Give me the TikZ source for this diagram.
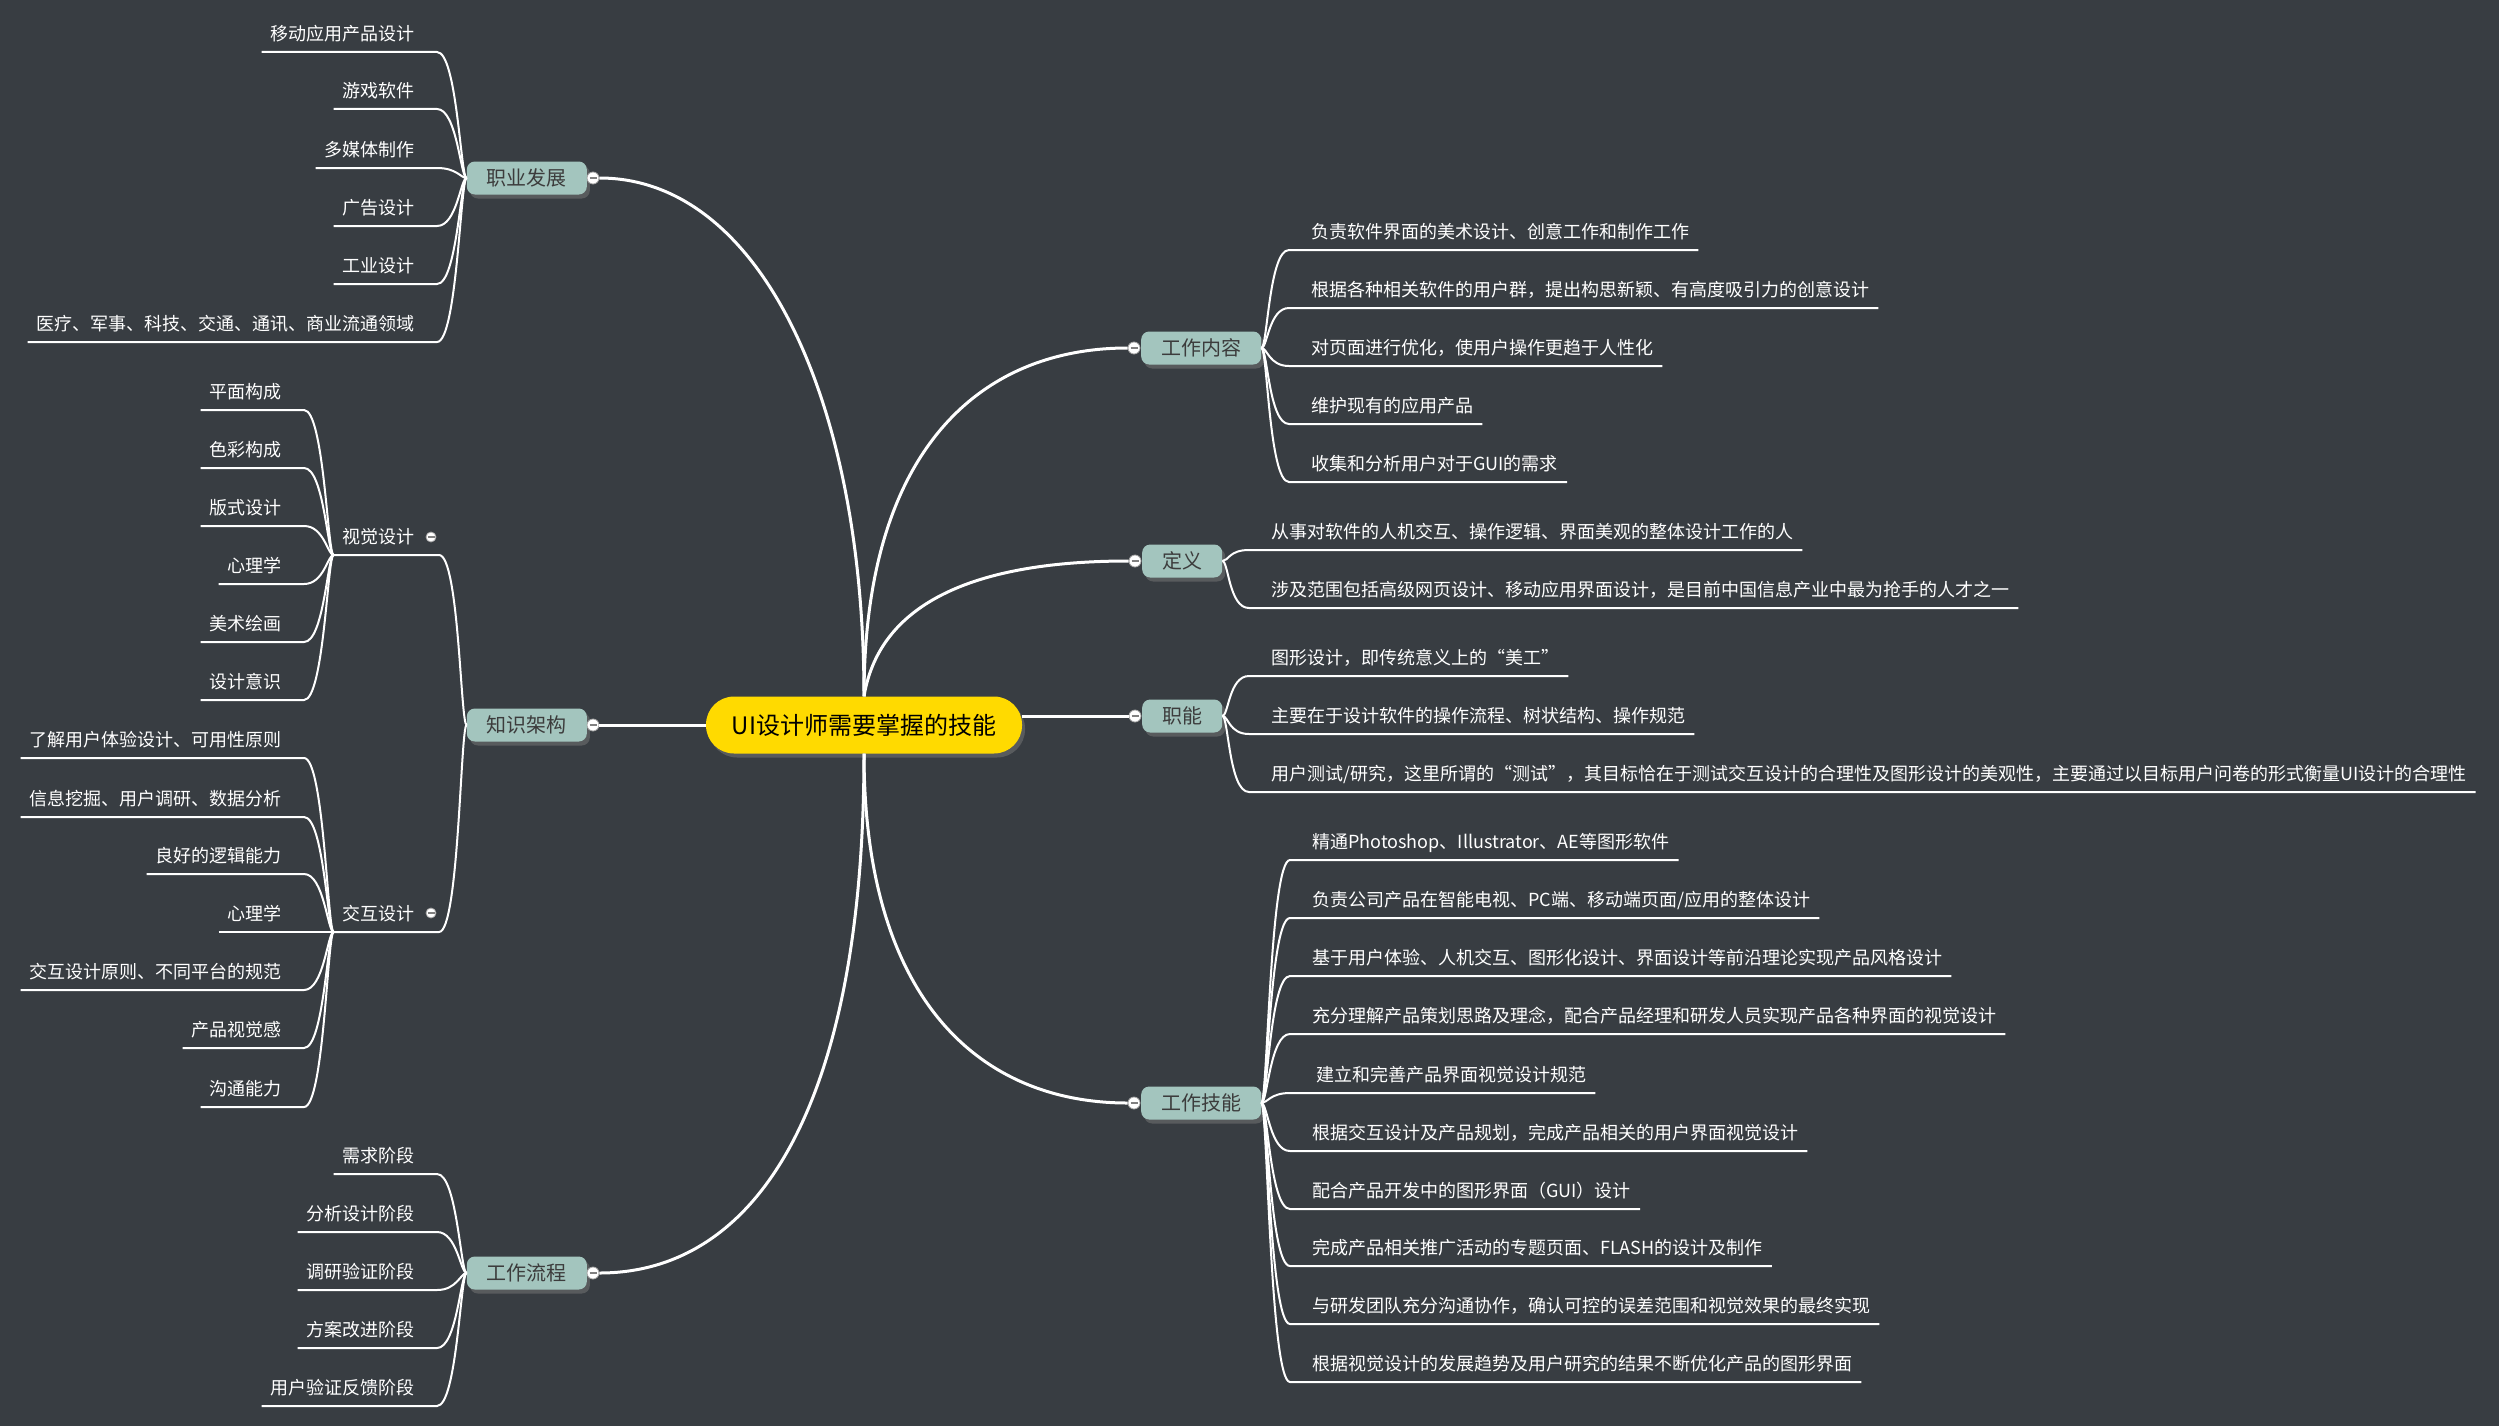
\documentclass[tikz,border=0pt]{standalone}
\usepackage{fontspec}
\newfontfamily\cjk{Noto Sans CJK SC}
\usetikzlibrary{shadows}

\definecolor{boardgray}{HTML}{383D42}
\definecolor{rootyellow}{HTML}{FFDA00}
\definecolor{topicgreen}{HTML}{A3C5BE}
\definecolor{topictext}{HTML}{3C3C3C}

\tikzset{
  root/.style={fill=rootyellow, text=black, rounded corners=28pt, minimum width=316pt,
    minimum height=57pt, inner sep=0pt, font=\cjk\fontsize{24}{28}\selectfont,
    drop shadow={opacity=0.45, shadow xshift=3pt, shadow yshift=-4pt}},
  topic/.style={fill=topicgreen, text=topictext, rounded corners=8pt, minimum height=33pt,
    inner xsep=20pt, inner ysep=0pt, font=\cjk\fontsize{20}{24}\selectfont,
    drop shadow={opacity=0.45, shadow xshift=3pt, shadow yshift=-4pt}},
  leaf/.style={text=white, inner xsep=9pt, inner ysep=7.5pt, text height=14pt, text depth=4pt,
    font=\cjk\fontsize{18}{22}\selectfont},
  leafL/.style={leaf, anchor=south east},
  leafR/.style={leaf, anchor=south west},
  knob/.style={circle, fill=white, draw=gray!70, line width=0.8pt, minimum size=12pt, inner sep=0pt,
    path picture={\draw[gray, line width=1.6pt]
      ([xshift=-3.5pt]path picture bounding box.center) -- ([xshift=3.5pt]path picture bounding box.center);}},
  limb/.style={draw=white, line width=3pt},
  twig/.style={draw=white, line width=2pt},
}

\begin{document}
\begin{tikzpicture}[x=1pt, y=-1pt]
  \fill[boardgray] (0,0) rectangle (2499,1426);
  \useasboundingbox (0,0) rectangle (2499,1426);

  % centre and main topics
  \node (ui) at (864,725) [root] {UI设计师需要掌握的技能};

  \node (zy) at (587,178) [topic, anchor=east] {职业发展};
  \node (zs) at (587,725) [topic, anchor=east] {知识架构};
  \node (lc) at (587,1273) [topic, anchor=east] {工作流程};
  \node (nr) at (1141,348) [topic, anchor=west] {工作内容};
  \node (dy) at (1142,561) [topic, anchor=west] {定义};
  \node (zn) at (1142,716) [topic, anchor=west] {职能};
  \node (jn) at (1141,1103) [topic, anchor=west] {工作技能};

  \node (kzy) at ([xshift=6pt]zy.east) [knob] {};
  \node (kzs) at ([xshift=6pt]zs.east) [knob] {};
  \node (klc) at ([xshift=6pt]lc.east) [knob] {};
  \node (knr) at ([xshift=-7pt]nr.west) [knob] {};
  \node (kdy) at ([xshift=-7pt]dy.west) [knob] {};
  \node (kzn) at ([xshift=-7pt]zn.west) [knob] {};
  \node (kjn) at ([xshift=-7pt]jn.west) [knob] {};

  \draw[limb] (ui.north) .. controls (864,400) and (760,178) .. (kzy);
  \draw[limb] (ui.west) -- (kzs);
  \draw[limb] (ui.south) .. controls (864,1100) and (760,1273) .. (klc);
  \draw[limb] (ui.north) .. controls (864,450) and (980,348) .. (knr);
  \draw[limb] (ui.north) .. controls (880,600) and (980,561) .. (kdy);
  \draw[limb] (ui.east |- kzn) -- (kzn);
  \draw[limb] (ui.south) .. controls (864,1000) and (980,1103) .. (kjn);

  % 职业发展
  \node (zy1) at (424,52) [leafL] {移动应用产品设计};
  \node (zy2) at (424,109) [leafL] {游戏软件};
  \node (zy3) at (424,168) [leafL] {多媒体制作};
  \node (zy4) at (424,226) [leafL] {广告设计};
  \node (zy5) at (424,284) [leafL] {工业设计};
  \node (zy6) at (424,342) [leafL] {医疗、军事、科技、交通、通讯、商业流通领域};
  \foreach \n in {zy1,zy2,zy3,zy4,zy5,zy6}
    \draw[twig] (\n.south west) -- ([xshift=13pt]\n.south east) .. controls +(20,0) and +(-6,0) .. (zy.west);

  % 知识架构
  \node (sj) at (424,555) [leafL] {视觉设计};
  \node (jh) at (424,932) [leafL] {交互设计};
  \node (ksj) at (431,537) [knob, minimum size=10pt] {};
  \node (kjh) at (431,913) [knob, minimum size=10pt] {};
  \foreach \n in {sj,jh}
    \draw[twig] (\n.south west) -- ([xshift=15pt]\n.south east) .. controls +(20,0) and +(-6,0) .. (zs.west);

  \node (sj1) at (291,410) [leafL] {平面构成};
  \node (sj2) at (291,468) [leafL] {色彩构成};
  \node (sj3) at (291,526) [leafL] {版式设计};
  \node (sj4) at (291,584) [leafL] {心理学};
  \node (sj5) at (291,642) [leafL] {美术绘画};
  \node (sj6) at (291,700) [leafL] {设计意识};
  \foreach \n in {sj1,sj2,sj3,sj4,sj5,sj6}
    \draw[twig] (\n.south west) -- ([xshift=13pt]\n.south east) .. controls +(20,0) and +(-6,0) .. (sj.south west);

  \node (jh1) at (291,758) [leafL] {了解用户体验设计、可用性原则};
  \node (jh2) at (291,817) [leafL] {信息挖掘、用户调研、数据分析};
  \node (jh3) at (291,874) [leafL] {良好的逻辑能力};
  \node (jh4) at (291,932) [leafL] {心理学};
  \node (jh5) at (291,990) [leafL] {交互设计原则、不同平台的规范};
  \node (jh6) at (291,1048) [leafL] {产品视觉感};
  \node (jh7) at (291,1107) [leafL] {沟通能力};
  \foreach \n in {jh1,jh2,jh3,jh4,jh5,jh6,jh7}
    \draw[twig] (\n.south west) -- ([xshift=13pt]\n.south east) .. controls +(20,0) and +(-6,0) .. (jh.south west);

  % 工作流程
  \node (lc1) at (424,1174) [leafL] {需求阶段};
  \node (lc2) at (424,1232) [leafL] {分析设计阶段};
  \node (lc3) at (424,1290) [leafL] {调研验证阶段};
  \node (lc4) at (424,1348) [leafL] {方案改进阶段};
  \node (lc5) at (424,1406) [leafL] {用户验证反馈阶段};
  \foreach \n in {lc1,lc2,lc3,lc4,lc5}
    \draw[twig] (\n.south west) -- ([xshift=13pt]\n.south east) .. controls +(20,0) and +(-6,0) .. (lc.west);

  % 工作内容
  \node (nr1) at (1302,250) [leafR] {负责软件界面的美术设计、创意工作和制作工作};
  \node (nr2) at (1302,308) [leafR] {根据各种相关软件的用户群，提出构思新颖、有高度吸引力的创意设计};
  \node (nr3) at (1302,366) [leafR] {对页面进行优化，使用户操作更趋于人性化};
  \node (nr4) at (1302,424) [leafR] {维护现有的应用产品};
  \node (nr5) at (1302,482) [leafR] {收集和分析用户对于GUI的需求};
  \foreach \n in {nr1,nr2,nr3,nr4,nr5}
    \draw[twig] (nr.east) .. controls +(6,0) and +(-20,0) .. ([xshift=-13pt]\n.south west) -- (\n.south east);

  % 定义
  \node (dy1) at (1262,550) [leafR] {从事对软件的人机交互、操作逻辑、界面美观的整体设计工作的人};
  \node (dy2) at (1262,608) [leafR] {涉及范围包括高级网页设计、移动应用界面设计，是目前中国信息产业中最为抢手的人才之一};
  \foreach \n in {dy1,dy2}
    \draw[twig] (dy.east) .. controls +(6,0) and +(-20,0) .. ([xshift=-13pt]\n.south west) -- (\n.south east);

  % 职能
  \node (zn1) at (1262,676) [leafR] {图形设计，即传统意义上的“美工”};
  \node (zn2) at (1262,734) [leafR] {主要在于设计软件的操作流程、树状结构、操作规范};
  \node (zn3) at (1262,792) [leafR] {用户测试/研究，这里所谓的“测试”，其目标恰在于测试交互设计的合理性及图形设计的美观性，主要通过以目标用户问卷的形式衡量UI设计的合理性};
  \foreach \n in {zn1,zn2,zn3}
    \draw[twig] (zn.east) .. controls +(6,0) and +(-20,0) .. ([xshift=-13pt]\n.south west) -- (\n.south east);

  % 工作技能
  \node (jn1) at (1303,860) [leafR] {精通Photoshop、Illustrator、AE等图形软件};
  \node (jn2) at (1303,918) [leafR] {负责公司产品在智能电视、PC端、移动端页面/应用的整体设计};
  \node (jn3) at (1303,976) [leafR] {基于用户体验、人机交互、图形化设计、界面设计等前沿理论实现产品风格设计};
  \node (jn4) at (1303,1034) [leafR] {充分理解产品策划思路及理念，配合产品经理和研发人员实现产品各种界面的视觉设计};
  \node (jn5) at (1303,1093) [leafR] {\hspace*{4pt}建立和完善产品界面视觉设计规范};
  \node (jn6) at (1303,1151) [leafR] {根据交互设计及产品规划，完成产品相关的用户界面视觉设计};
  \node (jn7) at (1303,1209) [leafR] {配合产品开发中的图形界面（GUI）设计};
  \node (jn8) at (1303,1266) [leafR] {完成产品相关推广活动的专题页面、FLASH的设计及制作};
  \node (jn9) at (1303,1324) [leafR] {与研发团队充分沟通协作，确认可控的误差范围和视觉效果的最终实现};
  \node (jn10) at (1303,1382) [leafR] {根据视觉设计的发展趋势及用户研究的结果不断优化产品的图形界面};
  \foreach \n in {jn1,jn2,jn3,jn4,jn5,jn6,jn7,jn8,jn9,jn10}
    \draw[twig] (jn.east) .. controls +(6,0) and +(-20,0) .. ([xshift=-13pt]\n.south west) -- (\n.south east);
\end{tikzpicture}
\end{document}
